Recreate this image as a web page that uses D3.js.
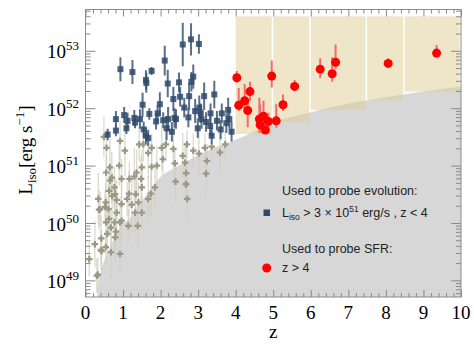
<!DOCTYPE html>
<html>
<head>
<meta charset="utf-8">
<script src="https://cdn.jsdelivr.net/npm/d3@7"></script>
<style>body{margin:0;background:#fff}</style>
</head>
<body>
<script>
// ---- data (z, log10 Liso, error in dex) ----
var blueZ = [0.59,0.81,0.81,0.93,1.03,1.12,1.09,1.25,1.30,1.32,1.52,1.55,1.61,1.62,1.61,1.67,1.70,1.76,1.88,1.92,
             2.07,2.11,2.16,2.19,2.30,2.34,2.41,2.49,2.59,2.63,2.74,2.76,2.81,2.82,2.87,2.99,3.02,3.03,3.07,3.09,
             3.16,3.32,3.33,3.36,3.43,3.60,3.63,3.75,3.80,3.83,3.89,2.20,2.52,2.37,1.45,1.98,2.92,3.21,3.50];
var blueL = [51.54,51.81,51.61,52.68,51.88,51.78,51.65,52.63,51.83,51.75,52.06,51.63,52.49,52.44,51.52,51.48,51.90,52.65,51.77,51.91,
             51.79,52.83,51.65,52.43,51.59,52.16,51.81,52.45,53.11,52.01,51.84,52.21,53.20,52.46,52.55,51.65,53.12,52.01,51.91,51.81,
             52.21,51.69,51.91,51.52,52.24,51.63,51.91,51.74,51.97,51.81,51.59,51.81,52.20,51.83,51.81,52.07,51.95,51.76,51.78];
var blueErr = [0.10,0.14,0.10,0.21,0.14,0.14,0.10,0.21,0.14,0.10,0.21,0.14,0.17,0.17,0.14,0.14,0.10,0.07,0.14,0.14,
               0.14,0.26,0.21,0.24,0.17,0.21,0.17,0.17,0.38,0.17,0.17,0.24,0.28,0.17,0.21,0.17,0.17,0.21,0.17,0.17,
               0.24,0.17,0.17,0.14,0.24,0.17,0.17,0.17,0.21,0.17,0.17,0.21,0.17,0.17,0.17,0.21,0.21,0.17,0.17];

var grayZ = [0.49,0.56,1.05,1.43,1.76,2.03,2.14,2.34,2.70,2.87,3.02,3.18,3.36,3.58,3.72,1.67,2.06,2.59,0.90,0.65,
             0.55,0.70,0.96,1.17,1.30,1.36,1.50,1.76,1.90,1.48,0.65,2.38,2.65,3.23,2.68,3.21,2.40,2.68,1.85,0.77,
             0.63,0.79,0.71,0.54,0.39,0.61,0.83,0.96,1.11,1.23,1.41,1.34,1.74,1.50,2.71,2.67,0.34,0.36,0.52,1.16,
             1.32,1.50,1.67,0.55,0.63,0.68,0.77,0.83,0.92,0.96,1.14,1.39,0.58,0.79,0.81,0.42,0.41,0.54,0.68,0.92,
             0.25,0.10,0.43,0.30,0.33,0.92,1.54];
var grayL = [51.50,51.31,51.26,51.37,51.31,51.31,51.37,51.29,51.37,51.26,51.21,51.31,51.33,51.23,51.37,51.22,51.11,51.17,51.00,50.97,
             50.88,50.79,50.77,50.77,50.81,50.88,50.97,50.98,51.00,50.77,50.74,51.04,51.05,51.08,50.87,50.86,50.72,50.68,50.62,50.62,
             50.56,50.50,50.47,50.36,50.24,50.24,50.40,50.33,50.42,50.32,50.36,50.50,50.51,50.62,50.42,50.67,50.42,50.23,50.28,50.51,
             50.18,50.18,50.42,50.01,50.07,49.92,50.01,50.18,50.01,50.04,49.95,49.95,49.81,49.75,49.85,49.73,49.53,49.58,49.49,49.46,
             49.63,49.37,49.51,49.08,49.10,51.43,51.37];
var grayErr = [0.35,0.30,0.45,0.30,0.25,0.40,0.30,0.35,0.25,0.30,0.40,0.25,0.30,0.35,0.25,0.45,0.30,0.40,0.35,0.50,
               0.30,0.45,0.35,0.30,0.50,0.40,0.30,0.45,0.35,0.40,0.30,0.25,0.35,0.30,0.45,0.40,0.35,0.30,0.40,0.35,
               0.45,0.30,0.40,0.35,0.30,0.45,0.35,0.40,0.30,0.45,0.35,0.30,0.40,0.35,0.40,0.30,0.45,0.35,0.30,0.40,
               0.35,0.30,0.40,0.45,0.30,0.35,0.40,0.30,0.45,0.35,0.30,0.40,0.35,0.45,0.30,0.40,0.35,0.30,0.45,0.35,
               0.40,0.30,0.35,0.30,0.30,0.35,0.30];

var redZ  = [4.03,4.08,4.24,4.32,4.38,4.63,4.65,4.74,4.79,4.87,4.96,5.08,5.26,5.57,6.25,6.57,6.66,8.06,9.35];
var redL  = [52.53,52.05,52.13,51.96,52.29,51.81,51.71,51.86,51.62,51.77,52.56,51.78,52.06,52.38,52.68,52.60,52.80,52.78,52.96];
var redHi = [52.65,52.35,52.42,52.13,52.46,52.18,52.06,52.13,51.78,51.92,52.83,52.07,52.24,52.49,52.87,52.89,53.11,52.87,53.10];
var redLo = [52.45,51.95,52.005,51.67,52.13,51.57,51.57,51.66,51.55,51.58,52.36,51.66,51.95,52.30,52.52,52.46,52.68,52.71,52.88];

// flux-limit curve
var limitZ = [0.29,0.35,0.45,0.55,0.70,0.92,1.20,1.60,2.00,2.40,3.00,3.50,4.00,4.50,5.00,6.00,7.00,8.00,9.00,10.0];
var limitL = [48.60,48.95,49.25,49.42,49.65,49.92,50.10,50.47,50.80,50.97,51.18,51.33,51.45,51.60,51.75,51.93,52.08,52.19,52.29,52.38];

// redshift bins (z > 4)
var binStart = [4.0,5.0,6.0,7.5,8.5];
var binEnd   = [5.0,6.0,7.5,8.5,10.0];
var binLow   = [51.55,51.76,51.97,52.14,52.29];
var binTop   = 53.6;

var xTicks = [0,1,2,3,4,5,6,7,8,9,10];
var yDecades = [49,50,51,52,53];

// ---- layout ----
var W = 474, H = 352;
var pL = 85.5, pR = 461, pT = 9.5, pB = 297;

var svg = d3.select("body").append("svg")
    .attr("width", W)
    .attr("height", H);

var x = d3.scaleLinear().domain([0, 10]).range([pL, pR]);
var y = d3.scaleLog().domain([Math.pow(10, 48.71), Math.pow(10, 53.72)]).range([pB, pT]);
function yl(v) { return y(Math.pow(10, v)); }

svg.append("clipPath").attr("id", "plot")
    .append("rect")
    .attr("x", pL).attr("y", pT)
    .attr("width", pR - pL).attr("height", pB - pT);

var plot = svg.append("g").attr("clip-path", "url(#plot)");

// gray excluded region
var limitData = limitZ.map(function(z, i) { return {z: z, l: limitL[i]}; });
plot.append("path")
    .datum(limitData)
    .attr("fill", "#d7d7d7")
    .attr("d", d3.area()
        .x(function(d) { return x(d.z); })
        .y0(pB + 5)
        .y1(function(d) { return yl(d.l); })
        .curve(d3.curveMonotoneX));

// tan bins
plot.selectAll("rect.bin")
    .data(binStart)
    .enter().append("rect")
    .attr("class", "bin")
    .attr("x", function(d) { return x(d); })
    .attr("y", yl(binTop))
    .attr("width", function(d, i) { return x(binEnd[i]) - x(d) - 1.5; })
    .attr("height", function(d, i) { return yl(binLow[i]) - yl(binTop); })
    .attr("fill", "#dfcb92")
    .attr("fill-opacity", 0.5);

// gray points
var gray = grayZ.map(function(z, i) { return {z: z, l: grayL[i], e: grayErr[i]}; });
plot.selectAll("line.gerr")
    .data(gray)
    .enter().append("line")
    .attr("x1", function(d) { return x(d.z); })
    .attr("x2", function(d) { return x(d.z); })
    .attr("y1", function(d) { return yl(d.l + d.e); })
    .attr("y2", function(d) { return yl(d.l - d.e); })
    .attr("stroke", "#cfcfc2")
    .attr("stroke-opacity", 0.8)
    .attr("stroke-width", 1.3);
plot.selectAll("path.gpt")
    .data(gray)
    .enter().append("path")
    .attr("transform", function(d) { return "translate(" + x(d.z) + "," + yl(d.l) + ")"; })
    .attr("d", d3.symbol().type(d3.symbolCross).size(24))
    .attr("fill", "#9a9a84");

// blue points
var blue = blueZ.map(function(z, i) { return {z: z, l: blueL[i], e: blueErr[i]}; });
plot.selectAll("line.berr")
    .data(blue)
    .enter().append("line")
    .attr("x1", function(d) { return x(d.z); })
    .attr("x2", function(d) { return x(d.z); })
    .attr("y1", function(d) { return yl(d.l + d.e); })
    .attr("y2", function(d) { return yl(d.l - d.e); })
    .attr("stroke", "#3d5675")
    .attr("stroke-opacity", 0.85)
    .attr("stroke-width", 2);
plot.selectAll("rect.bpt")
    .data(blue)
    .enter().append("rect")
    .attr("x", function(d) { return x(d.z) - 3; })
    .attr("y", function(d) { return yl(d.l) - 3; })
    .attr("width", 6).attr("height", 6)
    .attr("fill", "#2f4a6b")
    .attr("fill-opacity", 0.85);

// red points
var red = redZ.map(function(z, i) { return {z: z, l: redL[i], hi: redHi[i], lo: redLo[i]}; });
plot.selectAll("line.rerr")
    .data(red)
    .enter().append("line")
    .attr("x1", function(d) { return x(d.z); })
    .attr("x2", function(d) { return x(d.z); })
    .attr("y1", function(d) { return yl(d.hi); })
    .attr("y2", function(d) { return yl(d.lo); })
    .attr("stroke", "#f26a6a")
    .attr("stroke-width", 2);
plot.selectAll("circle.rpt")
    .data(red)
    .enter().append("circle")
    .attr("cx", function(d) { return x(d.z); })
    .attr("cy", function(d) { return yl(d.l); })
    .attr("r", 4.5)
    .attr("fill", "#ff0000");

// ---- axes ----
var axisColor = "#8a8a8a";
var minorX = d3.range(0, 50).map(function(i) { return i / 5; }).filter(function(v) { return v % 1 !== 0; });
var minorY = [];
yDecades.concat([48]).forEach(function(p) {
    for (var k = 2; k <= 9; k++) {
        var v = k * Math.pow(10, p);
        if (v > y.domain()[0] && v < y.domain()[1]) minorY.push(v);
    }
});
var majorY = yDecades.map(function(p) { return Math.pow(10, p); });

function tickAxis(axis, pos, vals, size) {
    var g = svg.append("g").attr("transform", pos)
        .call(axis.tickValues(vals).tickSize(size).tickFormat(""));
    g.select(".domain").remove();
    g.selectAll("line").attr("stroke", axisColor);
    return g;
}
tickAxis(d3.axisBottom(x), "translate(0," + pB + ")", xTicks, -7);
tickAxis(d3.axisBottom(x), "translate(0," + pB + ")", minorX, -4);
tickAxis(d3.axisTop(x), "translate(0," + pT + ")", xTicks, -7);
tickAxis(d3.axisTop(x), "translate(0," + pT + ")", minorX, -4);
tickAxis(d3.axisLeft(y), "translate(" + pL + ",0)", majorY, -10);
tickAxis(d3.axisLeft(y), "translate(" + pL + ",0)", minorY, -5);
tickAxis(d3.axisRight(y), "translate(" + pR + ",0)", majorY, -10);
tickAxis(d3.axisRight(y), "translate(" + pR + ",0)", minorY, -5);

svg.append("rect")
    .attr("x", pL).attr("y", pT)
    .attr("width", pR - pL).attr("height", pB - pT)
    .attr("fill", "none")
    .attr("stroke", axisColor);

var serif = "'Liberation Serif', 'DejaVu Serif', serif";

svg.selectAll("text.xt")
    .data(xTicks)
    .enter().append("text")
    .attr("x", function(d) { return x(d); })
    .attr("y", 318.5)
    .attr("text-anchor", "middle")
    .attr("font-family", serif)
    .attr("font-size", 19)
    .text(function(d) { return d; });

var yt = svg.selectAll("text.yt")
    .data(yDecades)
    .enter().append("text")
    .attr("x", 79)
    .attr("y", function(d) { return yl(d) + 7.6; })
    .attr("text-anchor", "end")
    .attr("font-family", serif)
    .attr("font-size", 19);
yt.append("tspan").text("10");
yt.append("tspan").attr("dy", -8).attr("font-size", 13).text(function(d) { return d; });

svg.append("text")
    .attr("x", (pL + pR) / 2)
    .attr("y", 337.5)
    .attr("text-anchor", "middle")
    .attr("font-family", serif)
    .attr("font-size", 19)
    .text("z");

var ytitle = svg.append("text")
    .attr("transform", "translate(32,150) rotate(-90)")
    .attr("text-anchor", "middle")
    .attr("font-family", serif)
    .attr("font-size", 19);
ytitle.append("tspan").text("L");
ytitle.append("tspan").attr("dy", 4).attr("font-size", 13).text("iso");
ytitle.append("tspan").attr("dy", -4).text("[erg s");
ytitle.append("tspan").attr("dy", -8).attr("font-size", 13).text("\u22121");
ytitle.append("tspan").attr("dy", 8).text("]");

// ---- legend ----
var sans = "'Liberation Sans', Arial, sans-serif";
var lg = svg.append("g").attr("font-family", sans).attr("font-size", 12.5).attr("fill", "#222");
lg.append("text").attr("x", 282).attr("y", 195).text("Used to probe evolution:");
var t2 = lg.append("text").attr("x", 282).attr("y", 217);
t2.append("tspan").text("L");
t2.append("tspan").attr("dy", 3).attr("font-size", 8.5).text("iso");
t2.append("tspan").attr("dy", -3).text(" > 3 \u00d7 10");
t2.append("tspan").attr("dy", -5).attr("font-size", 8.5).text("51");
t2.append("tspan").attr("dy", 5).text(" erg/s , z < 4");
lg.append("text").attr("x", 282).attr("y", 252.5).text("Used to probe SFR:");
lg.append("text").attr("x", 282).attr("y", 272).text("z > 4");
lg.append("rect").attr("x", 263.5).attr("y", 209.5).attr("width", 6.5).attr("height", 6.5).attr("fill", "#2f4a6b");
lg.append("circle").attr("cx", 266.7).attr("cy", 268).attr("r", 4.5).attr("fill", "#ff0000");
</script>
</body>
</html>
